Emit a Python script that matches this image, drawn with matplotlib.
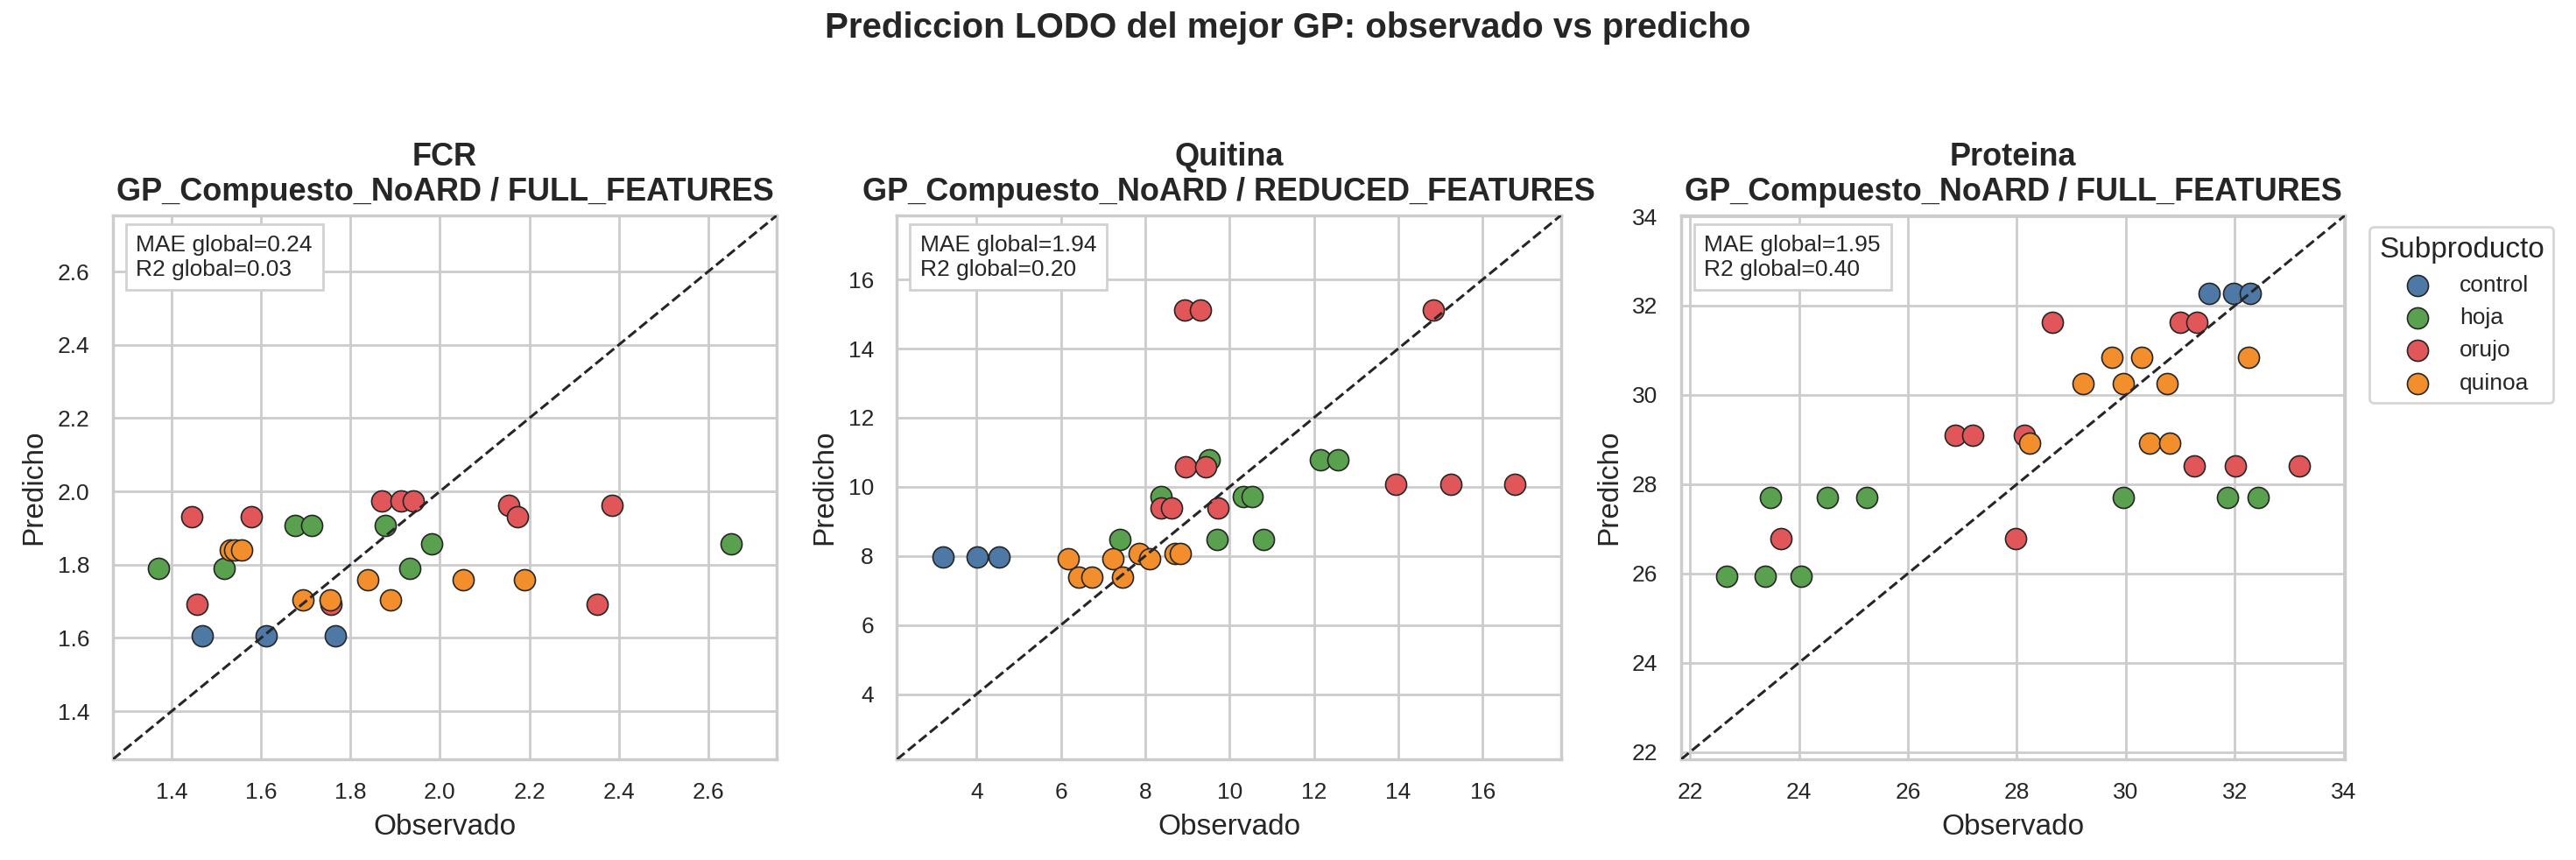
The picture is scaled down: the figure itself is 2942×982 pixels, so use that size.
import matplotlib
matplotlib.use('Agg')
import matplotlib.pyplot as plt
import seaborn as sns
import numpy as np

sns.set_theme(style='whitegrid')
plt.rcParams['font.family'] = ['Liberation Sans', 'DejaVu Sans']

GROUPS = ['control', 'hoja', 'orujo', 'quinoa']
COLORS = {'control': '#4e79a7', 'hoja': '#59a14f', 'orujo': '#e15759', 'quinoa': '#f28e2b'}

TARGETS = ['FCR', 'Quitina', 'Proteina']
MODELS = ['GP_Compuesto_NoARD / FULL_FEATURES',
          'GP_Compuesto_NoARD / REDUCED_FEATURES',
          'GP_Compuesto_NoARD / FULL_FEATURES']
MAE_GLOBAL = ['0.24', '1.94', '1.95']
R2_GLOBAL = ['0.03', '0.20', '0.40']

# FCR
fcr_obs = {
    'control': [1.469, 1.611, 1.766],
    'hoja': [1.371, 1.518, 1.676, 1.714, 1.877, 1.982, 1.933, 2.651],
    'orujo': [1.445, 1.578, 1.456, 1.756, 1.870, 1.913, 1.940, 2.154, 2.174, 2.386, 2.352],
    'quinoa': [1.531, 1.541, 1.556, 1.693, 1.754, 1.839, 1.890, 2.053, 2.190],
}
fcr_pred = {
    'control': [1.607, 1.607, 1.607],
    'hoja': [1.789, 1.789, 1.908, 1.908, 1.908, 1.857, 1.789, 1.857],
    'orujo': [1.932, 1.932, 1.693, 1.693, 1.975, 1.975, 1.975, 1.962, 1.932, 1.962, 1.693],
    'quinoa': [1.840, 1.840, 1.840, 1.705, 1.705, 1.759, 1.705, 1.759, 1.759],
}

# Quitina
quitina_obs = {
    'control': [3.195, 4.021, 4.537],
    'hoja': [9.52, 8.37, 7.40, 9.70, 10.80, 12.16, 12.57, 10.32, 10.53],
    'orujo': [8.94, 9.31, 14.83, 8.95, 9.43, 8.37, 8.62, 9.72, 13.94, 15.24, 16.77],
    'quinoa': [6.18, 6.43, 6.74, 7.24, 7.45, 7.85, 8.10, 8.71, 8.84],
}
quitina_pred = {
    'control': [7.977, 7.977, 7.977],
    'hoja': [10.79, 9.72, 8.47, 8.47, 8.47, 10.77, 10.77, 9.72, 9.72],
    'orujo': [15.11, 15.11, 15.11, 10.57, 10.57, 9.40, 9.40, 9.40, 10.08, 10.08, 10.08],
    'quinoa': [7.91, 7.39, 7.39, 7.91, 7.39, 8.06, 7.91, 8.06, 8.06],
}

# Proteina
proteina_obs = {
    'control': [31.53, 31.98, 32.29],
    'hoja': [22.675, 23.386, 24.04, 23.48, 24.515, 25.25, 29.95, 31.86, 32.43],
    'orujo': [28.65, 31.00, 31.31, 26.86, 27.19, 28.14, 31.26, 32.01, 33.18, 23.67, 27.97],
    'quinoa': [29.75, 30.29, 32.25, 29.22, 29.96, 30.76, 28.24, 30.44, 30.81],
}
proteina_pred = {
    'control': [32.28, 32.28, 32.28],
    'hoja': [25.93, 25.93, 25.93, 27.71, 27.71, 27.71, 27.71, 27.71, 27.71],
    'orujo': [31.63, 31.63, 31.63, 29.09, 29.09, 29.09, 28.41, 28.41, 28.41, 26.78, 26.78],
    'quinoa': [30.84, 30.84, 30.84, 30.26, 30.26, 30.26, 28.92, 28.92, 28.92],
}

ALL_OBS = [fcr_obs, quitina_obs, proteina_obs]
ALL_PRED = [fcr_pred, quitina_pred, proteina_pred]


fig, axes = plt.subplots(1, 3, figsize=(14.71, 4.91), dpi=200)
fig.subplots_adjust(left=0.0438, right=0.9103, bottom=0.117, top=0.7495, wspace=0.181)

for i, ax in enumerate(axes):
    obs, pred = ALL_OBS[i], ALL_PRED[i]
    for g in GROUPS:
        ax.scatter(obs[g], pred[g], s=75, color=COLORS[g], edgecolor='0.15',
                   linewidth=0.6, label=g, zorder=3)

    vals = np.concatenate([np.r_[obs[g], pred[g]] for g in GROUPS])
    lo, hi = vals.min(), vals.max()
    pad = 0.08 * (hi - lo)
    lo, hi = lo - pad, hi + pad
    ax.plot([lo, hi], [lo, hi], '--', color='0.15', linewidth=1.1, zorder=4)
    ax.set_xlim(lo, hi)
    ax.set_ylim(lo, hi)

    ax.set_title(f'{TARGETS[i]}\n{MODELS[i]}', fontsize=13, fontweight='bold')
    ax.set_xlabel('Observado', fontsize=12)
    ax.set_ylabel('Predicho', fontsize=12)
    ax.tick_params(labelsize=9.5)
    ax.text(0.035, 0.965, f'MAE global={MAE_GLOBAL[i]}\nR2 global={R2_GLOBAL[i]}',
            transform=ax.transAxes, ha='left', va='top', fontsize=9.5,
            bbox=dict(boxstyle='square,pad=0.45', facecolor='white', edgecolor='0.82'),
            zorder=5)

axes[2].legend(title='Subproducto', loc='upper left', bbox_to_anchor=(1.02, 1.0),
               fontsize=9.5, title_fontsize=12)

fig.suptitle('Prediccion LODO del mejor GP: observado vs predicho',
             fontsize=14.5, fontweight='bold', y=0.987)

plt.savefig('out.png', dpi=200)
